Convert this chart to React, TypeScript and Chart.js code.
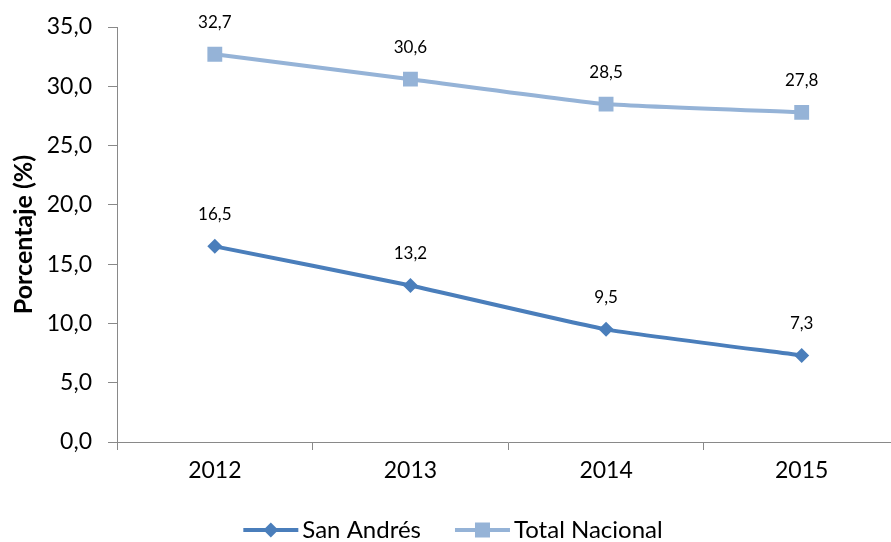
import React, { useEffect, useRef } from 'react';
import { Chart, registerables } from 'chart.js';

Chart.register(...registerables);

const categories = ['2012', '2013', '2014', '2015'];
const sanAndres = [16.5, 13.2, 9.5, 7.3];
const totalNacional = [32.7, 30.6, 28.5, 27.8];
const seriesNames = ['San Andrés', 'Total Nacional'];
const yMin = 0;
const yMax = 35;
const yStep = 5;

const FONT = 'Lato, "Open Sans", sans-serif';
const DARK = '#4A7EBB';
const LIGHT = '#95B3D7';
const AXIS = '#898989';

const fmt = (v: number) => v.toFixed(1).replace('.', ',');

const dataLabels = {
  id: 'dataLabels',
  afterDatasetsDraw(chart: any) {
    const ctx = chart.ctx;
    ctx.save();
    ctx.font = `17px ${FONT}`;
    ctx.fillStyle = '#000';
    ctx.textAlign = 'center';
    ctx.textBaseline = 'middle';
    chart.data.datasets.forEach((ds: any, i: number) => {
      const meta = chart.getDatasetMeta(i);
      meta.data.forEach((pt: any, j: number) => {
        ctx.fillText(fmt(ds.data[j]), pt.x, pt.y - 32);
      });
    });
    ctx.restore();
  },
};

const customLegend = {
  id: 'customLegend',
  afterDraw(chart: any) {
    const ctx = chart.ctx;
    ctx.save();
    ctx.font = `24px ${FONT}`;
    ctx.textBaseline = 'middle';
    ctx.textAlign = 'left';
    const lineW = 55;
    const gapText = 4;
    const gapItem = 34;
    const y = 530;
    const ds = chart.data.datasets;
    const widths = ds.map((d: any) => lineW + gapText + ctx.measureText(d.label).width);
    const total = widths.reduce((a: number, b: number) => a + b, 0) + gapItem * (ds.length - 1);
    let x = 453 - total / 2;
    ds.forEach((d: any, i: number) => {
      const color = d.borderColor;
      ctx.strokeStyle = color;
      ctx.lineWidth = 4;
      ctx.beginPath();
      ctx.moveTo(x, y);
      ctx.lineTo(x + lineW, y);
      ctx.stroke();
      ctx.fillStyle = color;
      const cx = x + lineW / 2;
      if (d.pointStyle === 'rectRot') {
        ctx.beginPath();
        ctx.moveTo(cx, y - 7.5);
        ctx.lineTo(cx + 7.5, y);
        ctx.lineTo(cx, y + 7.5);
        ctx.lineTo(cx - 7.5, y);
        ctx.closePath();
        ctx.fill();
      } else {
        ctx.fillRect(cx - 7.5, y - 7.5, 15, 15);
      }
      ctx.fillStyle = '#000';
      ctx.fillText(d.label, x + lineW + gapText, y);
      x += widths[i] + gapItem;
    });
    ctx.restore();
  },
};

export default function App() {
  const ref = useRef<HTMLCanvasElement>(null);
  useEffect(() => {
    if (!ref.current) return;
    const chart = new Chart(ref.current, {
      type: 'line',
      data: {
        labels: categories,
        datasets: [
          {
            label: seriesNames[0],
            data: sanAndres,
            borderColor: DARK,
            backgroundColor: DARK,
            borderWidth: 4,
            pointStyle: 'rectRot',
            pointRadius: 7.5,
            pointBorderWidth: 0,
            tension: 0.15,
          },
          {
            label: seriesNames[1],
            data: totalNacional,
            borderColor: LIGHT,
            backgroundColor: LIGHT,
            borderWidth: 4,
            pointStyle: 'rect',
            pointRadius: 10.5,
            pointBorderWidth: 0,
            tension: 0.15,
          },
        ],
      },
      options: {
        responsive: false,
        animation: false,
        layout: { padding: { top: 27, right: 8, left: 0, bottom: 0 } },
        plugins: {
          tooltip: { enabled: false },
          legend: { display: false },
        },
        scales: {
          x: {
            offset: true,
            grid: { drawOnChartArea: false, tickLength: 8, color: AXIS, offset: true },
            border: { color: AXIS, width: 1 },
            ticks: { color: '#000', font: { size: 23, family: FONT }, padding: 7 },
            afterFit: (s: any) => {
              s.height = 100;
              s.paddingLeft = 0;
              s.paddingRight = 0;
            },
          },
          y: {
            min: yMin,
            max: yMax,
            grid: { drawOnChartArea: false, tickLength: 9, color: AXIS },
            border: { color: AXIS, width: 1 },
            ticks: {
              stepSize: yStep,
              color: '#000',
              font: { size: 23, family: FONT },
              padding: 16,
              callback: (v: any) => fmt(Number(v)),
            },
            title: {
              display: true,
              text: 'Porcentaje (%)',
              color: '#000',
              font: { size: 25, weight: 'bold', family: FONT },
              padding: { top: 9, bottom: 0 },
            },
            afterFit: (s: any) => {
              s.width = 117;
              s.paddingTop = 0;
              s.paddingBottom = 0;
            },
          },
        },
      },
      plugins: [dataLabels, customLegend],
    });
    return () => chart.destroy();
  }, []);
  return (
    <div style={{ position: 'absolute', left: 0, top: 0, width: 891, height: 542, overflow: 'hidden', background: '#fff' }}>
      <canvas ref={ref} width={910} height={542} style={{ display: 'block' }} />
    </div>
  );
}
